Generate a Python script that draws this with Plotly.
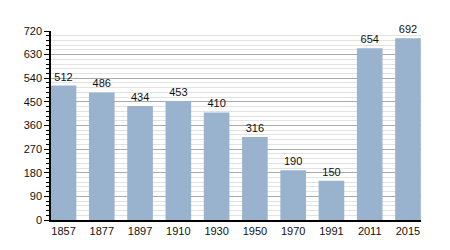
import plotly.graph_objects as go

years = ["1857", "1877", "1897", "1910", "1930", "1950", "1970", "1991", "2011", "2015"]
population = [512, 486, 434, 453, 410, 316, 190, 150, 654, 692]
y_ticks = [0, 90, 180, 270, 360, 450, 540, 630, 720]

fig = go.Figure()
fig.add_trace(go.Bar(
    x=years, y=population,
    marker=dict(color="#99b3cf", line=dict(width=0)),
    text=[str(v) for v in population],
    textposition="outside",
    textfont=dict(family="Liberation Sans, Arial", size=11, color="#111"),
    cliponaxis=False,
))
fig.update_layout(
    width=450, height=250,
    margin=dict(l=51, r=29, t=31, b=30),
    paper_bgcolor="white", plot_bgcolor="white",
    bargap=0.33,
    showlegend=False,
    font=dict(family="Liberation Sans, Arial", size=11, color="#111"),
)
fig.update_xaxes(
    type="category",
    range=[-0.327, 9.34],
    showline=True, linecolor="black", linewidth=1.5,
    ticks="", showgrid=False,
    tickfont=dict(size=11),
)
fig.update_yaxes(
    range=[0, 720],
    tickvals=y_ticks,
    showline=True, linecolor="black", linewidth=1.5,
    ticks="outside", ticklen=5, tickcolor="black",
    showgrid=True, gridcolor="#aaaaaa", gridwidth=1,
    minor=dict(dtick=18, showgrid=True, gridcolor="#e2e2e2", gridwidth=1,
               ticks="outside", ticklen=3, tickcolor="black"),
    tickfont=dict(size=11),
    zeroline=False,
)
fig.write_html("out.html")
